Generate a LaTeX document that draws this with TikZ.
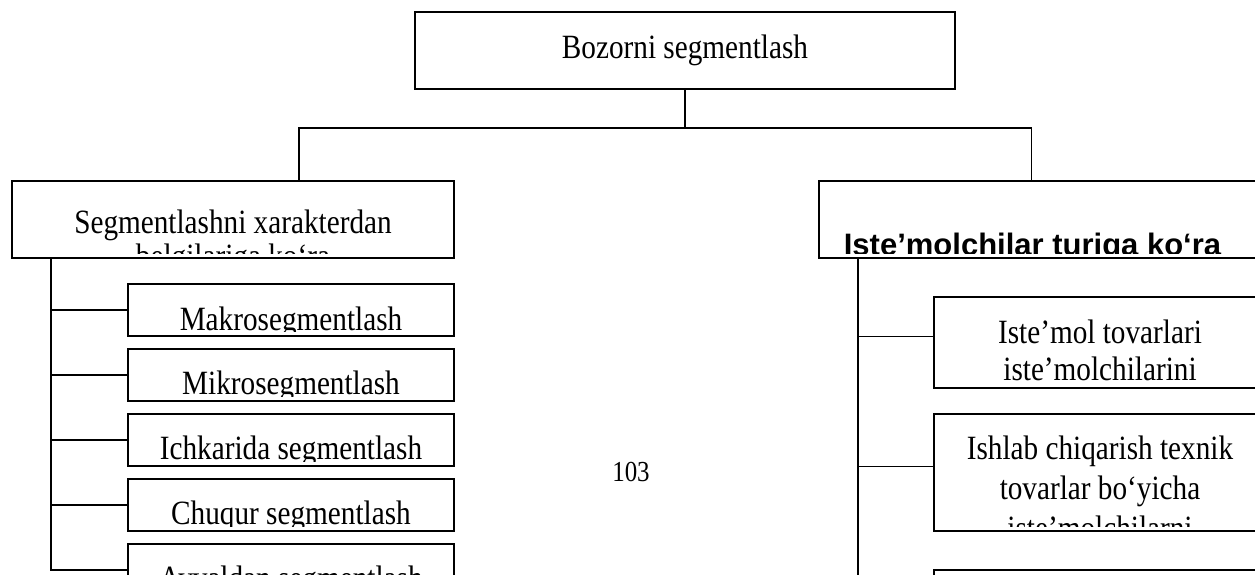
\documentclass[tikz,border=0pt]{standalone}
\usepackage{fontspec}
\setmainfont{Liberation Serif}[FakeStretch = 0.86]
\setsansfont{Liberation Sans}
\usetikzlibrary{positioning}
\tikzset{
  box/.style = {
    rectangle,
    draw = black,
    line width = 1.5pt,
    inner sep = 0pt,
    outer sep = 0pt,
    anchor = north west
  },
  seg/.style = {
    box,
    minimum width = 326pt,
    minimum height = 52pt
  },
  tur/.style = {
    box,
    minimum width = 332pt
  },
  txt/.style = {
    font = \fontsize{34}{#1}\selectfont,
    align = center,
    inner sep = 0pt,
    anchor = base
  },
  txt/.default = 38,
  hd/.style = {
    font = \sffamily\bfseries\fontsize{31}{38}\selectfont,
    inner sep = 0pt,
    anchor = base
  },
  con/.style = {
    line width = 1.5pt
  }
}
% matn oxirgi qatorining tayanch chizig'i bo'yicha joylanadi
\newcommand{\segtext}[4][txt]{
  \begin{scope}
    \clip ([shift = {(3pt, -3pt)}]#2.north west) rectangle ([shift = {(-3pt, 5pt)}]#2.south east);
    \node[#1] (#2T) at #3 {#4};
  \end{scope}
}

\begin{document}
\begin{tikzpicture}[x = 1pt, y = 1pt]
  \useasboundingbox (0, 0) rectangle (1255, -574);
  \clip (0, 0) rectangle (1255, -574);

  % Bosh blok.
  \node[box, minimum width = 540pt, minimum height = 77pt] (Bz) at (415, -12) {};
  \segtext{Bz}{([yshift = -46pt]Bz.north)}{Bozorni segmentlash}

  % Ikki yo'nalish.
  \node[box, minimum width = 442pt, minimum height = 77pt] (Sg) at (12, -181) {};
  \segtext[txt = 34]{Sg}{([yshift = -86pt]Sg.north)}{Segmentlashni xarakterdan\\belgilariga ko‘ra}
  \node[box, minimum width = 443pt, minimum height = 77pt] (Is) at (819, -181) {};
  \segtext[hd]{Is}{([xshift = -8pt, yshift = -74pt]Is.north)}{Iste’molchilar turiga ko‘ra}

  % Xarakterdan belgilariga ko'ra.
  \node[seg] (Mk) at (128, -284) {};
  \node[seg] (Mi) [below = 13pt of Mk] {};
  \node[seg] (Ic) [below = 13pt of Mi] {};
  \node[seg] (Ch) [below = 13pt of Ic] {};
  \node[seg] (Av) [below = 13pt of Ch] {};
  \segtext{Mk}{([yshift = -46pt]Mk.north)}{Makrosegmentlash}
  \segtext{Mi}{([yshift = -45pt]Mi.north)}{Mikrosegmentlash}
  \segtext{Ic}{([yshift = -45pt]Ic.north)}{Ichkarida segmentlash}
  \segtext{Ch}{([yshift = -45pt]Ch.north)}{Chuqur segmentlash}
  \segtext{Av}{([yshift = -45pt]Av.north)}{Avvaldan segmentlash}

  % Iste'molchilar turiga ko'ra.
  \node[tur, minimum height = 91pt] (T1) at (934, -297) {};
  \node[tur, minimum height = 117pt] (T2) [below = 26pt of T1] {};
  \node[tur, minimum height = 117pt] (T3) [below = 39pt of T2] {};
  \segtext[txt = 37]{T1}{([yshift = -83pt]T1.north)}{Iste’mol tovarlari\\iste’molchilarini}
  \segtext[txt = 40]{T2}{([yshift = -125pt]T2.north)}{Ishlab chiqarish texnik\\tovarlar bo‘yicha\\iste’molchilarni}

  \node[font = \fontsize{29}{34}\selectfont, anchor = base] (Pg) at (631, -481) {103};

  % Ulanishlar.
  \coordinate (J) at ([yshift = -39pt]Bz.south);
  \draw[con] (Bz.south) -- (J);
  \draw[con] ([xshift = 66pt]Sg.north) |- (J) -| ([xshift = -9pt]Is.north);

  \coordinate (LS) at ([xshift = 39pt]Sg.south west);
  \draw[con] (LS) |- (Av.west);
  \draw[con] (LS |- Mk.west) -- (Mk.west);
  \draw[con] (LS |- Mi.west) -- (Mi.west);
  \draw[con] (LS |- Ic.west) -- (Ic.west);
  \draw[con] (LS |- Ch.west) -- (Ch.west);

  \coordinate (RS) at ([xshift = 39pt]Is.south west);
  \draw[con] (RS) |- ([yshift = 6pt]T3.west);
  \draw[con] (RS |- T1.west) ++(0, 6) -- ([yshift = 6pt]T1.west);
  \draw[con] (RS |- T2.west) ++(0, 6) -- ([yshift = 6pt]T2.west);
\end{tikzpicture}
\end{document}
